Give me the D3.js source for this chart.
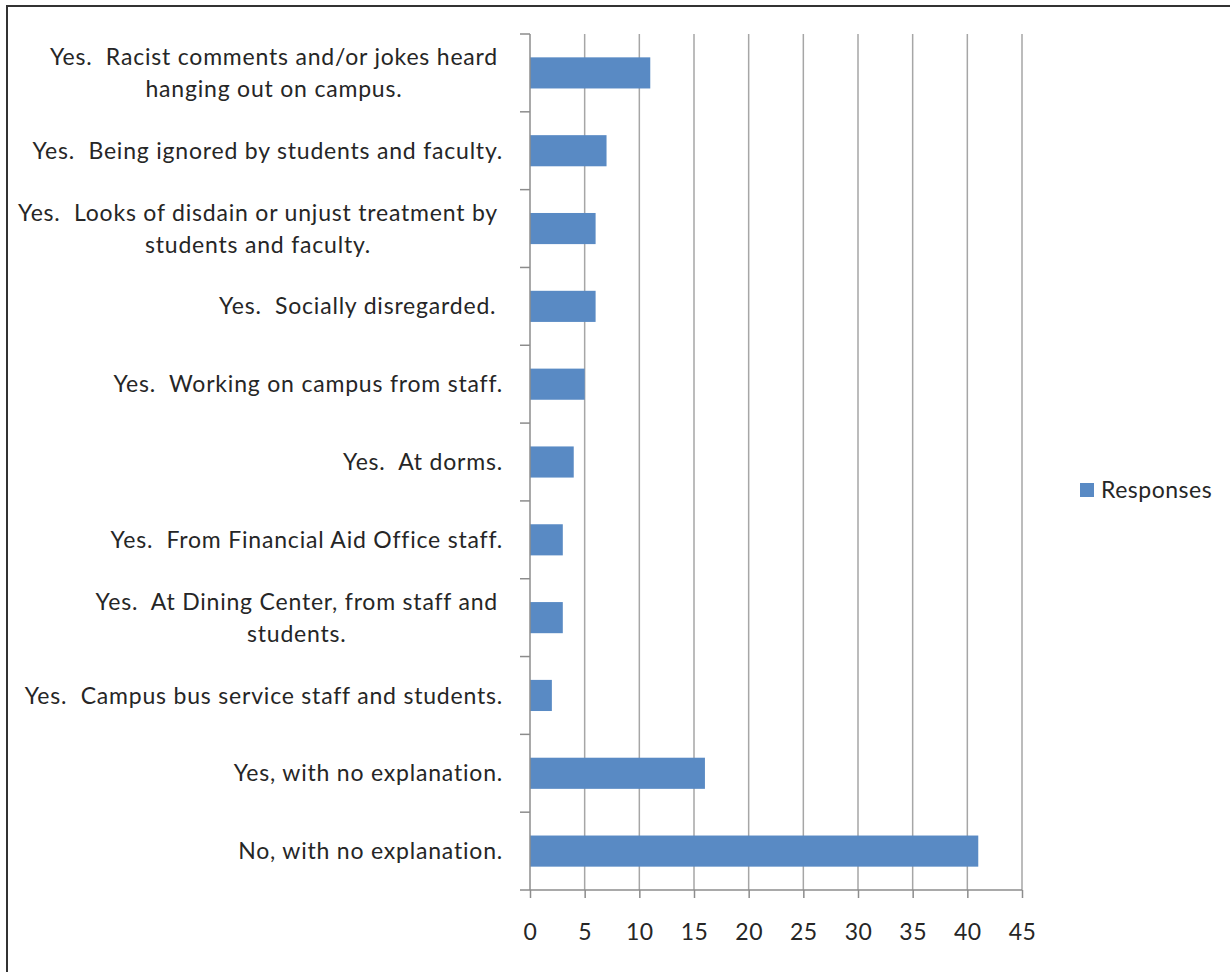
<!DOCTYPE html>
<html>
<head>
<meta charset="utf-8">
<script src="https://cdn.jsdelivr.net/npm/d3@7"></script>
<style>
  body { margin: 0; background: #fff; }
  text { font-family: Lato, "Liberation Sans", sans-serif; fill: #262626; }
</style>
</head>
<body>
<script>
var categories = [
    "Yes.  Racist comments and/or jokes heard\nhanging out on campus.",
    "Yes.  Being ignored by students and faculty.",
    "Yes.  Looks of disdain or unjust treatment by\nstudents and faculty.",
    "Yes.  Socially disregarded. ",
    "Yes.  Working on campus from staff.",
    "Yes.  At dorms.",
    "Yes.  From Financial Aid Office staff.",
    "Yes.  At Dining Center, from staff and\nstudents.",
    "Yes.  Campus bus service staff and students.",
    "Yes, with no explanation.",
    "No, with no explanation."
];
var responses = [11, 7, 6, 6, 5, 4, 3, 3, 2, 16, 41];
var xTicks = [0, 5, 10, 15, 20, 25, 30, 35, 40, 45];
var seriesName = "Responses";

var width = 1230, height = 972;
var plotLeft = 530, plotRight = 1022, plotTop = 34, plotBottom = 890;
var barColor = "#598AC4";
var fontSize = 23;

var svg = d3.select("body").append("svg")
    .attr("width", width)
    .attr("height", height);

// frame
svg.append("rect")
    .attr("x", 7).attr("y", 6)
    .attr("width", width + 10).attr("height", height + 10)
    .attr("fill", "none")
    .attr("stroke", "#333")
    .attr("stroke-width", 2);

var x = d3.scaleLinear().domain([0, 45]).range([plotLeft, plotRight]);
var y = d3.scaleBand().domain(d3.range(categories.length)).range([plotTop, plotBottom]).paddingInner(0.6).paddingOuter(0.3);
var yb = d3.scaleBand().domain(d3.range(categories.length)).range([plotTop, plotBottom]);

// gridlines
svg.append("g").selectAll("line")
    .data(xTicks.slice(1))
    .enter().append("line")
    .attr("x1", d => x(d)).attr("x2", d => x(d))
    .attr("y1", plotTop).attr("y2", plotBottom)
    .attr("stroke", "#a6a6a6")
    .attr("stroke-width", 1.5);

// bars
svg.append("g").selectAll("rect")
    .data(responses)
    .enter().append("rect")
    .attr("x", x(0))
    .attr("y", (d, i) => y(i))
    .attr("width", d => x(d) - x(0))
    .attr("height", y.bandwidth())
    .attr("fill", barColor);

// x axis
var xAxis = svg.append("g")
    .attr("transform", "translate(0," + plotBottom + ")")
    .call(d3.axisBottom(x).tickValues(xTicks).tickSize(8).tickPadding(26).tickSizeOuter(0));
xAxis.select(".domain").attr("stroke", "#8c8c8c").attr("stroke-width", 1.5)
    .attr("d", "M" + (plotLeft - 10) + ",0H" + plotRight);
xAxis.selectAll(".tick line").attr("stroke", "#8c8c8c").attr("stroke-width", 1.5);
xAxis.selectAll(".tick text")
    .style("font-family", "Lato, sans-serif")
    .attr("font-size", 23)
    .attr("letter-spacing", 0.5)
    .attr("fill", "#262626");

// y axis: line plus ticks at category boundaries
svg.append("line")
    .attr("x1", plotLeft).attr("x2", plotLeft)
    .attr("y1", plotTop).attr("y2", plotBottom)
    .attr("stroke", "#8c8c8c").attr("stroke-width", 1.5);
svg.append("g").selectAll("line")
    .data(d3.range(categories.length))
    .enter().append("line")
    .attr("x1", plotLeft - 10).attr("x2", plotLeft)
    .attr("y1", d => plotTop + d * yb.step()).attr("y2", d => plotTop + d * yb.step())
    .attr("stroke", "#8c8c8c").attr("stroke-width", 1.5);

// category labels
var labels = svg.append("g").selectAll("text")
    .data(categories)
    .enter().append("text")
    .attr("font-size", fontSize)
    .attr("letter-spacing", 0.8)
    .style("white-space", "pre");

labels.each(function (d, i) {
    var lines = d.split("\n");
    var cy = yb(i) + yb.bandwidth() / 2;
    var t = d3.select(this);
    if (lines.length === 1) {
        t.attr("text-anchor", "end")
            .attr("x", 503).attr("y", cy)
            .attr("dy", "0.35em")
            .text(lines[0]);
    } else {
        // centred block, right edge near the axis labels
        var tmp = t.append("tspan").text(lines[0]);
        var w = tmp.node().getComputedTextLength();
        tmp.remove();
        var cx = 498 - w / 2;
        t.attr("text-anchor", "middle");
        lines.forEach(function (ln, k) {
            t.append("tspan")
                .attr("x", cx)
                .attr("y", cy + (k - (lines.length - 1) / 2) * 32)
                .attr("dy", "0.35em")
                .text(ln);
        });
    }
});

// legend
svg.append("rect")
    .attr("x", 1080).attr("y", 483)
    .attr("width", 14).attr("height", 14)
    .attr("fill", barColor);
svg.append("text")
    .attr("x", 1101).attr("y", 490)
    .attr("dy", "0.35em")
    .attr("font-size", fontSize)
    .attr("letter-spacing", 0.5)
    .text(seriesName);
</script>
</body>
</html>
